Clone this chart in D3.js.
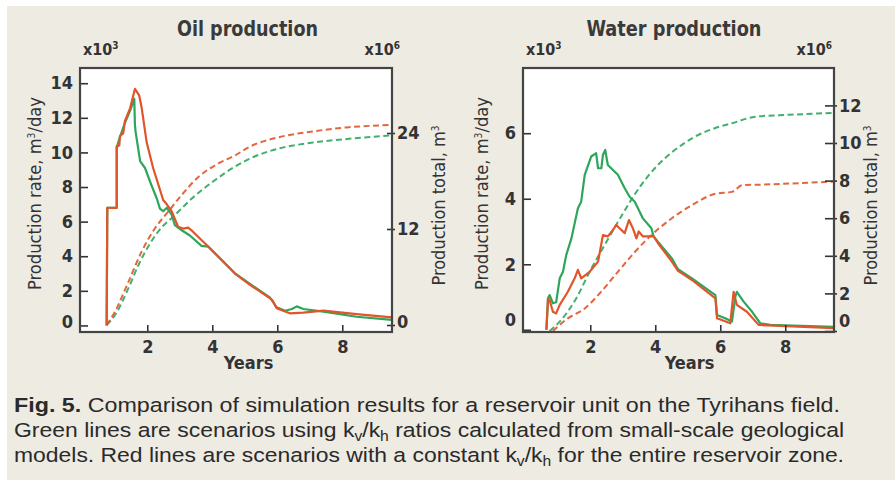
<!DOCTYPE html>
<html>
<head>
<meta charset="utf-8">
<script src="https://cdn.jsdelivr.net/npm/d3@7"></script>
<style>
  body { margin: 0; background: #fff; }
  svg { display: block; }
</style>
</head>
<body>
<div id="fig"></div>
<script>
// ---- data: [years, value] ----
// Oil production rate, x10^3 m3/day (left axis)
const oilRateGreen = [[0.75,0],[0.77,6.8],[1.06,6.8],[1.06,10.3],[1.16,10.9],[1.31,11.7],[1.47,12.4],[1.6,13.1],[1.62,11.6],[1.64,11.2],[1.78,9.5],[1.93,9.1],[2.13,8.1],[2.29,7.35],[2.39,6.75],[2.49,6.6],[2.6,6.8],[2.75,6.4],[2.85,5.8],[3.06,5.5],[3.31,5.2],[3.67,4.6],[3.88,4.55],[4.54,3.3],[4.7,3.0],[5.16,2.4],[5.78,1.6],[5.98,1.05],[6.24,0.85],[6.45,0.95],[6.6,1.1],[6.8,0.95],[7.42,0.8],[8.44,0.5],[9.52,0.32]];
const oilRateRed = [[0.75,0],[0.77,6.8],[1.06,6.8],[1.06,10.35],[1.14,10.4],[1.16,10.95],[1.26,11.1],[1.31,11.8],[1.47,12.55],[1.62,13.67],[1.75,13.3],[1.83,12.55],[1.98,10.6],[2.18,9.1],[2.49,7.25],[2.6,7.0],[2.75,6.6],[2.95,5.7],[3.1,5.6],[3.26,5.65],[3.36,5.5],[3.88,4.55],[4.54,3.3],[4.7,3.0],[5.16,2.35],[5.78,1.57],[5.85,1.45],[5.98,1.0],[6.24,0.8],[6.39,0.7],[6.8,0.74],[7.42,0.86],[8.44,0.65],[9.52,0.47]];
// Oil production total, x10^6 m3 (right axis)
const oilTotalGreen = [[0.75,0],[1.01,1.25],[1.42,4.6],[1.73,7.5],[2.34,11.7],[2.85,13.75],[3.37,15.8],[4.08,18.1],[4.7,19.8],[5.16,20.8],[6.08,22.1],[7.1,22.8],[8.14,23.25],[9.52,23.7]];
const oilTotalRed = [[0.75,0],[1.01,1.7],[1.42,5.4],[1.83,9.2],[2.24,12.1],[2.65,14.2],[3.06,16.25],[3.57,18.5],[4.19,20.2],[4.7,21.2],[5.16,22.3],[6.08,23.5],[7.1,24.2],[8.14,24.7],[9.52,25.0]];

// Water production rate, x10^3 m3/day (left axis)
const waterRateGreen = [[0.65,0],[0.7,0.96],[0.75,1.06],[0.85,0.81],[0.95,0.84],[1.06,1.57],[1.16,1.77],[1.26,2.28],[1.42,2.79],[1.62,3.71],[1.72,3.91],[1.83,4.73],[2.03,5.29],[2.18,5.39],[2.24,4.93],[2.34,4.93],[2.39,5.34],[2.46,5.49],[2.54,5.03],[2.85,4.73],[3.06,4.32],[3.21,4.06],[3.37,3.91],[3.62,3.4],[3.88,3.1],[3.95,2.85],[4.08,2.69],[4.51,2.18],[4.7,1.85],[5.13,1.57],[5.85,1.06],[5.9,0.45],[6.15,0.35],[6.36,0.25],[6.46,1.0],[6.51,1.16],[6.72,0.86],[6.98,0.55],[7.23,0.2],[7.54,0.15],[9.49,0.09]];
const waterRateRed = [[0.65,0],[0.7,0.96],[0.75,0.9],[0.85,0.55],[0.95,0.5],[1.06,0.76],[1.31,1.16],[1.52,1.57],[1.62,1.83],[1.72,1.57],[1.98,1.77],[2.24,2.08],[2.39,2.89],[2.54,2.85],[2.7,3.05],[2.8,3.2],[2.9,3.1],[3.06,2.95],[3.19,3.35],[3.31,3.1],[3.42,2.79],[3.49,3.0],[3.62,2.85],[3.95,2.85],[4.08,2.65],[4.51,2.08],[4.7,1.8],[5.13,1.52],[5.85,0.96],[5.9,0.35],[6.31,0.2],[6.41,1.16],[6.51,0.76],[6.82,0.55],[7.18,0.15],[9.49,0.05]];
// Water production total, x10^6 m3 (right axis)
const waterTotalGreen = [[0.75,0],[1.06,0.5],[1.57,1.74],[1.98,3.15],[2.44,4.57],[2.85,5.8],[3.57,7.77],[4.08,8.83],[4.51,9.5],[5.13,10.25],[5.85,10.8],[6.36,11.05],[7.08,11.4],[8.1,11.5],[9.49,11.6]];
const waterTotalRed = [[0.85,0],[1.31,0.67],[1.83,1.2],[2.34,2.1],[2.85,3.15],[3.37,4.2],[3.88,5.1],[4.51,6.0],[5.13,6.7],[5.85,7.3],[6.36,7.4],[6.67,7.75],[7.54,7.8],[9.49,7.95]];

// tick labels
const yearTicks = [2, 4, 6, 8];
const oilRateTicks = [0, 2, 4, 6, 8, 10, 12, 14];
const oilTotalTicks = [0, 12, 24];
const waterRateTicks = [0, 2, 4, 6];
const waterTotalTicks = [0, 2, 4, 6, 8, 10, 12];

const titles = ['Oil production', 'Water production'];
const captionLines = [
  [['Fig. 5.', 'b'], [' Comparison of simulation results for a reservoir unit on the Tyrihans field.', '']],
  [['Green lines are scenarios using k', ''], ['v', 's'], ['/k', ''], ['h', 's'], [' ratios calculated from small-scale geological', '']],
  [['models. Red lines are scenarios with a constant k', ''], ['v', 's'], ['/k', ''], ['h', 's'], [' for the entire reservoir zone.', '']]
];
const captionWidths = [826, 830, 830];

const GREEN = '#2da65c';
const RED = '#e0552a';
const INK = '#333';
const FONT = "'DejaVu Sans Condensed','Liberation Sans',sans-serif";

const width = 895, height = 481;

const svg = d3.select('#fig').append('svg')
  .attr('width', width)
  .attr('height', height);

// beige page with thin white strips top/left like the scan
svg.append('rect').attr('width', width).attr('height', height).attr('fill', '#fff');
svg.append('rect').attr('x', 7).attr('y', 6).attr('width', width - 7).attr('height', height - 7).attr('fill', '#eeebe3');

function drawPanel(p) {
  const x = d3.scaleLinear().domain(p.xDomain).range([p.left, p.right]);
  const y = d3.scaleLinear().domain(p.yDomain).range([p.bottom, p.top]);
  const y2 = d3.scaleLinear().domain(p.y2Domain).range([p.bottom, p.top]);

  const g = svg.append('g');

  g.append('rect')
    .attr('x', p.left).attr('y', p.top)
    .attr('width', p.right - p.left).attr('height', p.bottom - p.top)
    .attr('fill', '#fff');

  const lineL = d3.line().x(d => x(d[0])).y(d => y(d[1]));
  const lineR = d3.line().x(d => x(d[0])).y(d => y2(d[1])).curve(d3.curveMonotoneX);

  // cumulative totals (dashed)
  [[p.totalGreen, GREEN], [p.totalRed, RED]].forEach(([data, c]) => {
    g.append('path').datum(data)
      .attr('d', lineR)
      .attr('fill', 'none')
      .attr('stroke', c)
      .attr('stroke-width', 2)
      .attr('stroke-dasharray', '6,3.5')
      .attr('opacity', 0.9);
  });

  // rates (solid)
  [[p.rateGreen, GREEN], [p.rateRed, RED]].forEach(([data, c]) => {
    g.append('path').datum(data)
      .attr('d', lineL)
      .attr('fill', 'none')
      .attr('stroke', c)
      .attr('stroke-width', 2.2)
      .attr('stroke-linejoin', 'round');
  });

  // left axis, ticks pointing in
  const la = g.append('g')
    .attr('transform', `translate(${p.left},0)`)
    .call(d3.axisLeft(y).tickValues(p.rateTicks).tickSizeInner(-8).tickSizeOuter(0).tickPadding(7));
  la.selectAll('text').filter(d => d === 0).attr('y', -p.zeroLift);

  // bottom axis, ticks pointing in
  g.append('g')
    .attr('transform', `translate(0,${p.bottom})`)
    .call(d3.axisBottom(x).tickValues(yearTicks).tickSizeInner(-7).tickSizeOuter(0).tickPadding(8));

  // right axis, ticks straddle the frame
  const ra = g.append('g')
    .attr('transform', `translate(${p.right},0)`)
    .call(d3.axisRight(y2).tickValues(p.totalTicks).tickSizeInner(3).tickSizeOuter(0).tickPadding(2));
  ra.selectAll('line').attr('x1', -p.rTickIn);
  ra.selectAll('text').filter(d => d === 0).attr('y', -p.zeroLift2);

  g.selectAll('.domain').remove();
  g.selectAll('.tick line').attr('stroke', INK).attr('stroke-width', 1.6);
  g.selectAll('.tick text')
    .attr('fill', INK)
    .style('font-family', FONT)
    .style('font-size', '18px')
    .style('font-weight', 'bold');

  // frame
  g.append('rect')
    .attr('x', p.left).attr('y', p.top)
    .attr('width', p.right - p.left).attr('height', p.bottom - p.top)
    .attr('fill', 'none')
    .attr('stroke', '#444')
    .attr('stroke-width', 2.2);

  // title
  g.append('text')
    .attr('x', p.titleX).attr('y', 36)
    .attr('text-anchor', 'middle')
    .attr('textLength', p.titleLen)
    .attr('lengthAdjust', 'spacingAndGlyphs')
    .attr('fill', '#3a3a3a')
    .style('font-family', FONT).style('font-size', '22px').style('font-weight', 'bold')
    .text(p.title);

  // multipliers
  const mult = (xp, anchor, exp) => {
    const t = g.append('text')
      .attr('x', xp).attr('y', 55)
      .attr('text-anchor', anchor)
      .attr('fill', INK)
      .style('font-family', FONT).style('font-size', '16px').style('font-weight', 'bold');
    t.append('tspan').text('x10');
    t.append('tspan').attr('dy', -6).style('font-size', '10px').text(exp);
  };
  mult(p.left + 3, 'start', '3');
  mult(p.multRightX, 'end', '6');

  // x label
  g.append('text')
    .attr('x', p.yearsX).attr('y', 369)
    .attr('text-anchor', 'middle')
    .attr('fill', INK)
    .style('font-family', FONT).style('font-size', '18px').style('font-weight', 'bold')
    .text('Years');

  // y labels (rotated)
  const ylab = (xp, yc, len, main, tail) => {
    const t = g.append('text')
      .attr('transform', `translate(${xp},${yc}) rotate(-90)`)
      .attr('text-anchor', 'middle')
      .attr('textLength', len)
      .attr('lengthAdjust', 'spacingAndGlyphs')
      .attr('fill', INK)
      .style('font-family', FONT).style('font-size', '18px');
    t.append('tspan').text(main);
    t.append('tspan').attr('dy', -6).style('font-size', '10px').text('3');
    t.append('tspan').attr('dy', 6).text(tail);
  };
  ylab(p.leftLabelX, 193.5, 193, 'Production rate, m', '/day');
  ylab(p.rightLabelX, 205.5, 160, 'Production total, m', '');
}

drawPanel({
  title: titles[0], titleX: 247.5, titleLen: 141,
  left: 80, right: 392, top: 68, bottom: 332,
  xDomain: [-0.07, 9.53], yDomain: [-0.38, 14.88], y2Domain: [-0.875, 32.125],
  rateTicks: oilRateTicks, totalTicks: oilTotalTicks,
  rateGreen: oilRateGreen, rateRed: oilRateRed,
  totalGreen: oilTotalGreen, totalRed: oilTotalRed,
  rTickIn: 5, zeroLift: 4, zeroLift2: 3,
  multRightX: 400, yearsX: 248.5, leftLabelX: 41, rightLabelX: 445
});

drawPanel({
  title: titles[1], titleX: 674, titleLen: 175,
  left: 523, right: 834, top: 68, bottom: 332,
  xDomain: [-0.07, 9.5], yDomain: [-0.067, 7.99], y2Domain: [-0.053, 13.99],
  rateTicks: waterRateTicks, totalTicks: waterTotalTicks,
  rateGreen: waterRateGreen, rateRed: waterRateRed,
  totalGreen: waterTotalGreen, totalRed: waterTotalRed,
  rTickIn: 9, zeroLift: 10, zeroLift2: 10,
  multRightX: 832, yearsX: 689.5, leftLabelX: 488, rightLabelX: 877
});

// caption
const cap = svg.append('g')
  .style('font-family', "'Liberation Sans',Arial,sans-serif")
  .style('font-size', '20.5px')
  .attr('fill', '#2a2a2a');

captionLines.forEach((parts, i) => {
  const t = cap.append('text')
    .attr('x', 14).attr('y', 412 + i * 25)
    .attr('textLength', captionWidths[i])
    .attr('lengthAdjust', 'spacingAndGlyphs');
  let sub = false;
  parts.forEach(([s, kind]) => {
    const ts = t.append('tspan').text(s);
    if (kind === 'b') ts.style('font-weight', 'bold');
    if (kind === 's') {
      ts.style('font-size', '14px').attr('dy', sub ? 0 : 4);
      sub = true;
    } else if (sub) {
      ts.attr('dy', -4);
      sub = false;
    }
  });
});
</script>
</body>
</html>
